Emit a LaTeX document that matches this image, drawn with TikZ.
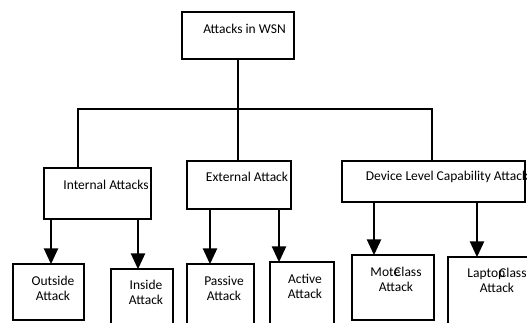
\documentclass[tikz,border=0pt]{standalone}
\usepackage{fontspec}
\setmainfont{Carlito}
\usepackage{tikz}
\usetikzlibrary{arrows.meta}

\begin{document}
\begin{tikzpicture}[
  x=1pt, y=-1pt,
  box/.style={draw, line width=1.5pt, minimum width=#1, inner sep=0pt},
  lbl/.style={inner sep=0pt, align=center, font=\fontsize{13.5}{15}\selectfont},
  link/.style={line width=1.4pt},
  down/.style={line width=2.6pt, -{Triangle[width=14pt,length=16pt]}, shorten >=-1pt}
]
\clip (0,0) rectangle (527,322);
\fill[white] (0,0) rectangle (527,322);

% top
\node[box=112pt, minimum height=47pt] (root) at (238,35.5) {};
\node[lbl] (rootlbl) at (244.5,29) {Attacks in WSN};

% second level
\node[box=107pt, minimum height=51pt] (internal) at (97.5,193.5) {};
\node[lbl] (internallbl) at (106,185) {Internal Attacks};
\node[box=104pt, minimum height=48pt] (external) at (239,185) {};
\node[lbl] (externallbl) at (247,177) {External Attack};
\node[box=183pt, minimum height=41pt] (device) at (433.5,181.5) {};
\node[lbl] (devicelbl) at (447,177) {Device Level Capability Attack};

% third level
\node[box=71pt, minimum height=56pt] (outside) at (48.5,292) {};
\node[lbl] (outsidelbl) at (53,288) {Outside\\Attack};
\node[box=62pt, minimum height=70pt] (inside) at (142,304) {};
\node[lbl] (insidelbl) at (146,292) {Inside\\Attack};
\node[box=67pt, minimum height=70pt] (passive) at (220.5,299) {};
\node[lbl] (passivelbl) at (224,288) {Passive\\Attack};
\node[box=64pt, minimum height=70pt] (active) at (302,297) {};
\node[lbl] (activelbl) at (305,286) {Active\\Attack};
\node[box=82pt, minimum height=65pt] (mote) at (393,287.5) {};
\node[lbl] (motelbl) at (396,279) {Mote\kern-6pt Class\\Attack};
\node[box=82pt, minimum height=70pt] (laptop) at (489,292) {};
\node[lbl] (laptoplbl) at (497,280) {Laptop\kern-6pt Class\\Attack};

% tree lines
\coordinate (bar) at (238,109);
\draw[link] (root.south) -- (bar);
\draw[link] (internal.north -| 78,0) |- (bar) -| (external.north -| 238,0);
\draw[link] (bar) -| (device.north -| 432,0);

% arrows
\draw[down] (internal.south -| 51,0) -- (outside.north -| 51,0);
\draw[down] (internal.south -| 138,0) -- (inside.north -| 138,0);
\draw[down] (external.south -| 210,0) -- (passive.north -| 210,0);
\draw[down] (external.south -| 279,0) -- (active.north -| 279,0);
\draw[down] (device.south -| 374,0) -- (mote.north -| 374,0);
\draw[down] (device.south -| 477,0) -- (laptop.north -| 477,0);
\end{tikzpicture}
\end{document}
